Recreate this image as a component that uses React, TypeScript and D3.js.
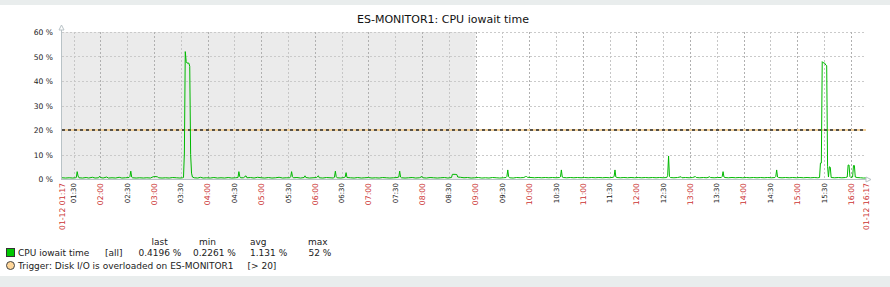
import React from "react";
import * as d3 from "d3";

const chartTitle = "ES-MONITOR1: CPU iowait time";
const startLabel = "01-12 01:17";
const endLabel = "01-12 16:17";
const startMinuteOfDay = 77; // 01:17
const spanMinutes = 900;
const shadedUntil = "09:00";

const yTicks = [0, 10, 20, 30, 40, 50, 60];
const timeLabels = [
  "01:30", "02:00", "02:30", "03:00", "03:30", "04:00", "04:30", "05:00", "05:30", "06:00",
  "06:30", "07:00", "07:30", "08:00", "08:30", "09:00", "09:30", "10:00", "10:30", "11:00",
  "11:30", "12:00", "12:30", "13:00", "13:30", "14:00", "14:30", "15:00", "15:30", "16:00",
];
const triggerThreshold = 20;

// [minutes since 01:17, iowait %]
const iowaitSeries: [number, number][] = [
  [0, 0.5], [4, 0.4], [8, 0.5], [12, 0.4], [15, 0.5], [16, 0.6], [17, 3.0], [18, 1.2], [19, 0.5], [23, 0.4],
  [27, 0.6], [30, 0.4], [34, 0.7], [37, 0.4], [41, 0.5], [42, 1.1], [43, 0.6], [46, 0.4], [50, 0.8], [52, 0.4],
  [56, 0.5], [60, 0.4], [64, 0.7], [67, 0.4], [71, 0.5], [75, 0.6], [76, 1.0], [77, 3.2], [78, 0.8], [79, 0.5],
  [83, 0.4], [87, 0.5], [91, 0.4], [95, 0.5], [99, 0.4], [102, 0.9], [104, 1.0], [107, 0.9], [108, 0.5], [112, 0.4],
  [116, 0.5], [120, 0.4], [124, 0.6], [128, 0.5], [132, 0.4], [135, 0.5], [136, 0.6], [137, 10.6], [138, 52], [139, 48],
  [140, 47.3], [142, 47.3], [143, 46], [144, 10], [145, 2.4], [146, 0.8], [148, 0.5], [152, 0.4], [155, 0.7], [158, 0.4],
  [162, 0.5], [166, 0.4], [170, 0.6], [174, 0.4], [178, 0.5], [182, 0.4], [186, 0.6], [190, 0.4], [194, 0.5], [197, 0.6],
  [198, 3.0], [199, 1.0], [200, 0.5], [203, 0.5], [206, 1.3], [207, 0.5], [211, 0.6], [215, 0.4], [219, 0.7], [223, 0.5],
  [227, 0.4], [231, 0.6], [235, 0.4], [239, 0.5], [243, 0.7], [247, 0.4], [251, 0.5], [255, 0.5], [256, 0.9], [257, 3.0],
  [258, 1.0], [259, 0.5], [263, 0.6], [267, 0.4], [271, 0.6], [272, 1.3], [273, 0.6], [277, 0.4], [281, 0.5], [285, 0.6],
  [287, 1.3], [288, 0.5], [292, 0.4], [296, 0.6], [300, 0.5], [304, 0.4], [305, 0.8], [306, 3.2], [307, 0.9], [308, 0.5],
  [312, 0.4], [316, 0.6], [317, 0.8], [318, 2.6], [319, 0.6], [323, 0.5], [327, 0.4], [331, 0.6], [335, 0.4], [339, 0.5],
  [343, 0.6], [347, 0.4], [351, 0.5], [355, 0.4], [359, 0.6], [363, 0.5], [367, 0.4], [371, 0.5], [375, 0.6], [377, 0.8],
  [378, 3.2], [379, 0.8], [380, 0.5], [384, 0.4], [388, 0.5], [392, 0.6], [396, 0.4], [400, 0.5], [403, 1.0], [404, 0.5],
  [408, 0.4], [412, 0.6], [416, 0.5], [420, 0.4], [424, 0.5], [428, 0.6], [432, 0.4], [436, 0.6], [437, 1.9], [440, 1.9],
  [442, 1.8], [443, 0.8], [446, 0.7], [450, 0.5], [454, 0.6], [458, 0.4], [462, 0.5], [466, 0.6], [470, 0.4], [474, 0.5],
  [478, 0.4], [482, 0.6], [486, 0.5], [490, 0.4], [494, 0.5], [497, 0.6], [498, 1.0], [499, 3.7], [500, 0.9], [501, 0.5],
  [505, 0.4], [509, 0.6], [513, 0.5], [517, 0.6], [519, 1.0], [520, 1.0], [521, 0.7], [525, 0.6], [529, 0.5], [533, 0.6],
  [537, 0.5], [541, 0.6], [545, 0.5], [549, 0.6], [553, 0.5], [557, 0.6], [558, 0.9], [559, 3.7], [560, 0.8], [561, 0.6],
  [565, 0.5], [569, 0.6], [573, 0.5], [577, 0.6], [581, 0.5], [585, 0.6], [589, 0.5], [593, 0.6], [597, 0.5], [601, 0.6],
  [605, 0.5], [609, 0.6], [613, 0.5], [617, 0.7], [618, 1.0], [619, 3.7], [620, 0.8], [621, 0.6], [625, 0.5], [629, 0.6],
  [633, 0.5], [637, 0.6], [641, 0.5], [645, 0.6], [649, 0.5], [653, 0.6], [657, 0.5], [661, 0.6], [665, 0.5], [669, 0.6],
  [673, 0.5], [677, 0.6], [678, 1.5], [679, 9.4], [680, 1.0], [681, 0.6], [685, 0.5], [689, 0.6], [693, 0.9], [694, 0.5],
  [698, 0.6], [702, 0.5], [706, 0.6], [709, 1.0], [710, 0.6], [714, 0.5], [718, 0.6], [722, 0.5], [725, 0.9], [726, 0.6],
  [730, 0.5], [734, 0.6], [738, 0.6], [739, 1.0], [740, 3.0], [741, 0.8], [742, 0.6], [746, 0.5], [750, 0.6], [754, 0.5],
  [758, 0.6], [762, 0.5], [766, 0.6], [770, 0.5], [774, 0.6], [778, 0.5], [782, 0.6], [786, 0.5], [790, 0.6], [794, 0.5],
  [798, 0.6], [799, 1.0], [800, 3.7], [801, 0.8], [802, 0.6], [806, 0.5], [810, 0.6], [814, 0.5], [818, 0.6], [822, 0.5],
  [826, 0.6], [830, 0.5], [834, 0.6], [838, 0.5], [842, 0.6], [846, 0.5], [848, 0.6], [849, 6.5], [850, 6.5], [851, 47.9],
  [852, 47.5], [854, 47.2], [855, 46.5], [856, 46.3], [857, 5.0], [858, 0.8], [859, 5.0], [860, 4.8], [861, 0.6], [865, 0.5],
  [869, 0.6], [873, 0.5], [877, 0.6], [879, 0.8], [880, 5.7], [881, 5.7], [882, 1.0], [883, 0.6], [885, 0.8], [886, 5.5],
  [887, 5.5], [888, 0.8], [890, 0.6], [894, 0.5], [897, 0.4], [900, 0.42],
];

const legendHeaders = ["last", "min", "avg", "max"];
const legendValues = ["0.4196 %", "0.2261 %", "1.131 %", "52 %"];
const seriesName = "CPU iowait time";
const seriesFunc = "[all]";
const triggerName = "Trigger: Disk I/O is overloaded on ES-MONITOR1";
const triggerCond = "[> 20]";

const W = 890;
const H = 287;
const FONT = "'DejaVu Sans', sans-serif";

function toOffset(label: string) {
  const [h, m] = label.split(":").map(Number);
  return h * 60 + m - startMinuteOfDay;
}

export default function App() {
  const x = d3.scaleLinear().domain([0, spanMinutes]).range([62, 866]);
  const y = d3.scaleLinear().domain([0, 60]).range([179, 32]);
  const line = d3
    .line<[number, number]>()
    .x((d) => x(d[0]))
    .y((d) => y(d[1]));

  const headerX = [151.5, 199, 250, 308];
  const valueX = [138.5, 193, 250, 308.5];

  return (
    <div style={{ position: "absolute", left: 0, top: 0, width: W, height: H }}>
      <svg width={W} height={H} style={{ display: "block" }} fontFamily={FONT}>
        <rect x={0} y={0} width={W} height={H} fill="#ffffff" />
        <rect x={0} y={0} width={W} height={5} fill="#e9eded" />
        <rect x={0} y={276} width={W} height={H - 276} fill="#e9eded" />

        <text x={443} y={23} textAnchor="middle" fontSize={11} fill="#111">
          {chartTitle}
        </text>

        {/* shaded period */}
        <rect
          x={x(0)}
          y={y(60)}
          width={x(toOffset(shadedUntil)) - x(0)}
          height={y(0) - y(60)}
          fill="#ebebeb"
        />

        {/* horizontal grid */}
        {yTicks.slice(1).map((t) => (
          <line
            key={"h" + t}
            x1={x(0)}
            x2={x(spanMinutes)}
            y1={Math.round(y(t)) + 0.5}
            y2={Math.round(y(t)) + 0.5}
            stroke="#cacaca"
            strokeDasharray="2,2"
          />
        ))}
        {/* vertical grid */}
        {timeLabels.map((lb) => {
          const xx = Math.round(x(toOffset(lb))) + 0.5;
          const hour = lb.endsWith(":00");
          return (
            <line
              key={"v" + lb}
              x1={xx}
              x2={xx}
              y1={y(60)}
              y2={y(0)}
              stroke={hour ? "#b0b0b0" : "#c6c6c6"}
              strokeDasharray="2,2"
            />
          );
        })}

        {/* trigger line */}
        <line
          x1={x(0)}
          x2={x(spanMinutes)}
          y1={Math.round(y(triggerThreshold))}
          y2={Math.round(y(triggerThreshold))}
          stroke="#f3d19a"
          strokeWidth={2}
        />
        <line
          x1={x(0)}
          x2={x(spanMinutes)}
          y1={Math.round(y(triggerThreshold))}
          y2={Math.round(y(triggerThreshold))}
          stroke="#555048"
          strokeWidth={2}
          strokeDasharray="3,3"
        />

        {/* data line */}
        <path d={line(iowaitSeries) || ""} fill="none" stroke="#00b800" strokeWidth={1} />

        {/* axes */}
        <line x1={61.5} x2={61.5} y1={28} y2={180} stroke="#b8c2c6" />
        <path d="M59,30 L61.5,25 L64,30 Z" fill="#fff" stroke="#b8c2c6" />
        <line x1={61} x2={868} y1={179.5} y2={179.5} stroke="#b8c2c6" />
        <path d="M866,177 L871,179.5 L866,182 Z" fill="#fff" stroke="#b8c2c6" />

        {/* y labels */}
        {yTicks.map((t) => (
          <text key={"yl" + t} x={53} y={y(t) + 3} textAnchor="end" fontSize={7.6} fill="#222">
            {t} %
          </text>
        ))}

        {/* x labels */}
        {timeLabels.map((lb) => {
          const hour = lb.endsWith(":00");
          const xx = x(toOffset(lb));
          return (
            <text
              key={"xl" + lb}
              transform={`translate(${xx},183) rotate(-90)`}
              textAnchor="end"
              dy="0.36em"
              fontSize={hour ? 7.7 : 7}
              fill={hour ? "#cc3333" : "#222"}
            >
              {lb}
            </text>
          );
        })}
        <text
          transform={`translate(${x(0)},183) rotate(-90)`}
          textAnchor="end"
          dy="0.36em"
          fontSize={7.7}
          fill="#cc3333"
        >
          {startLabel}
        </text>
        <text
          transform={`translate(${x(spanMinutes)},183) rotate(-90)`}
          textAnchor="end"
          dy="0.36em"
          fontSize={7.7}
          fill="#cc3333"
        >
          {endLabel}
        </text>

        {/* legend */}
        {legendHeaders.map((h, i) => (
          <text key={"lh" + h} x={headerX[i]} y={245} fontSize={9} fill="#222">
            {h}
          </text>
        ))}
        <rect x={6.5} y={248.5} width={8} height={8} fill="#00c800" stroke="#333" />
        <text x={18} y={256} fontSize={9} fill="#222">
          {seriesName}
        </text>
        <text x={105} y={256} fontSize={9} fill="#222">
          {seriesFunc}
        </text>
        {legendValues.map((v, i) => (
          <text key={"lv" + i} x={valueX[i]} y={256} fontSize={9} fill="#222">
            {v}
          </text>
        ))}
        <circle cx={10.5} cy={265.5} r={4} fill="#ffd699" stroke="#444" />
        <text x={18} y={269} fontSize={9} fill="#222">
          {triggerName}
        </text>
        <text x={247.5} y={269} fontSize={9} fill="#222">
          {triggerCond}
        </text>
      </svg>
    </div>
  );
}
